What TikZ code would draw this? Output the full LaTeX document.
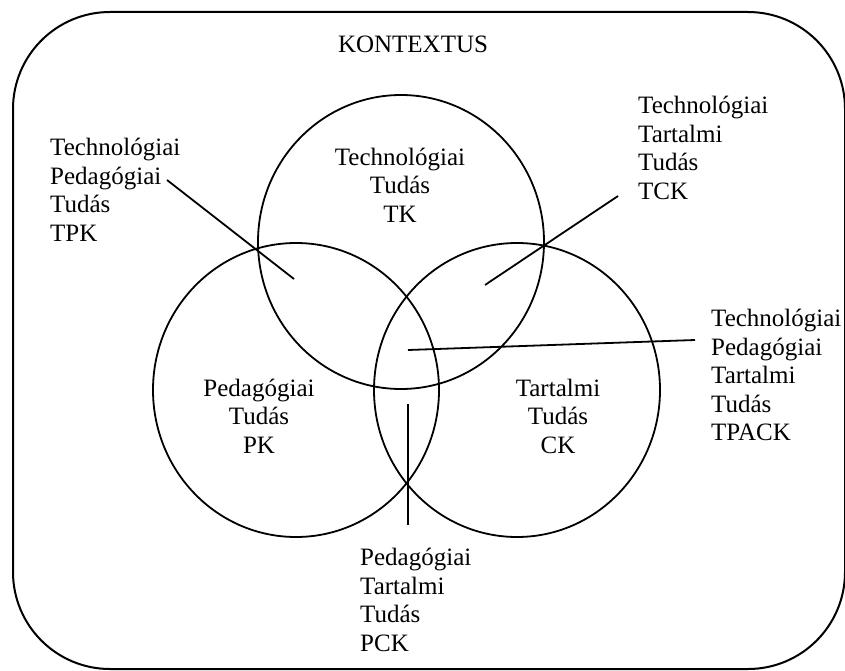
\documentclass[tikz,border=0pt]{standalone}
\usepackage{fontspec}
\setmainfont{Liberation Serif}
\usetikzlibrary{shapes.geometric}
\begin{document}
\begin{tikzpicture}[x=1pt,y=-1pt,
  ring/.style={draw, ellipse, line width=1.8pt, minimum width=286pt, minimum height=294pt, inner sep=0pt},
  txt/.style={font=\fontsize{25}{28.5}\selectfont, inner sep=0pt},
  side/.style={txt, align=left, anchor=west},
  mid/.style={txt, align=center},
  lead/.style={line width=1.8pt}]
\useasboundingbox (0,0) rectangle (845,671);
% context frame
\draw[line width=2pt, rounded corners=97pt] (13,12) rectangle (845,669);
\node[txt] (ctx) at (413,44) {KONTEXTUS};
% the three knowledge domains
\node[ring] (tk) at (401,242) {};
\node[ring] (pk) at (296,390) {};
\node[ring] (ck) at (517,390) {};
\node[mid] (tkl) at (400,185) {Technológiai\\Tudás\\TK};
\node[mid] (pkl) at (259,416) {Pedagógiai\\Tudás\\PK};
\node[mid] (ckl) at (558,416) {Tartalmi\\Tudás\\CK};
% overlap labels
\node[side] (tpk) at (50,190) {Technológiai\\Pedagógiai\\Tudás\\TPK};
\node[side] (tck) at (638,148) {Technológiai\\Tartalmi\\Tudás\\TCK};
\node[side] (tpack) at (711,375) {Technológiai\\Pedagógiai\\Tartalmi\\Tudás\\TPACK};
\node[side] (pck) at (360,600) {Pedagógiai\\Tartalmi\\Tudás\\PCK};
% leader line ends
\coordinate (tpkA) at (167,180);
\coordinate (tpkB) at (294,279);
\coordinate (tckA) at (618,196);
\coordinate (tckB) at (485,285);
\coordinate (tpackA) at (695,340);
\coordinate (tpackB) at (408,350);
\coordinate (pckA) at (408,525);
\coordinate (pckB) at (408,404);
\draw[lead] (tpkA) -- (tpkB);
\draw[lead] (tckA) -- (tckB);
\draw[lead] (tpackA) -- (tpackB);
\draw[lead] (pckA) -- (pckB);
\end{tikzpicture}
\end{document}
